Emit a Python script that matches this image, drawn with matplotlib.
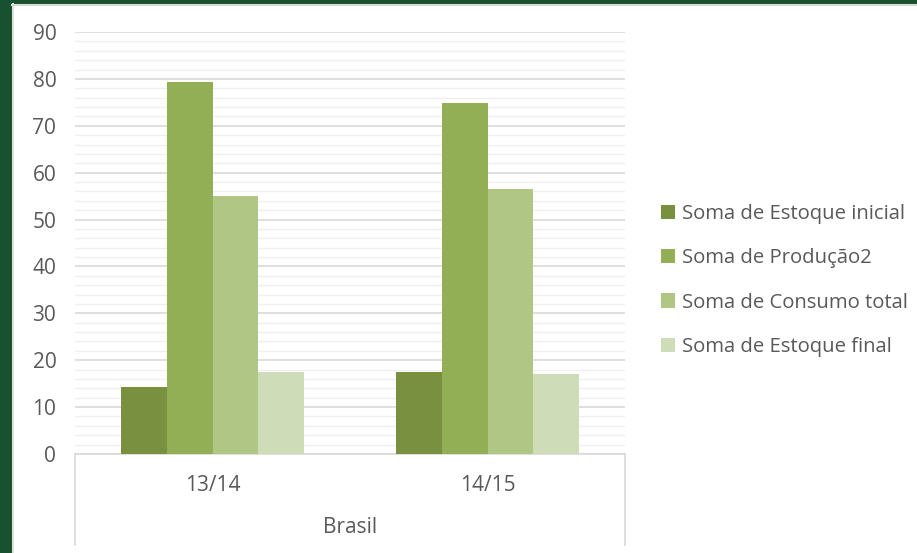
import matplotlib
matplotlib.use("Agg")
import matplotlib.pyplot as plt
import numpy as np
from matplotlib.patches import Rectangle
from matplotlib.lines import Line2D

plt.rcParams["font.family"] = ["Open Sans", "DejaVu Sans"]

# dados
safras = ["13/14", "14/15"]
grupo = "Brasil"
series = ["Soma de Estoque inicial", "Soma de Produção2",
          "Soma de Consumo total", "Soma de Estoque final"]
estoque_inicial = [14.3, 17.5]
producao = [79.3, 74.8]
consumo_total = [55.0, 56.5]
estoque_final = [17.5, 17.1]
cores = ["#78903F", "#93AF55", "#AFC684", "#CFDCB8"]

W, H = 917, 553
fig = plt.figure(figsize=(W / 100, H / 100), dpi=100)
fig.patch.set_facecolor("white")

# moldura verde do slide
verde = "#17512F"
fig.patches.append(Rectangle((0, 0), 12 / W, 1, transform=fig.transFigure,
                             facecolor=verde, edgecolor="none", zorder=0))
fig.patches.append(Rectangle((0, 1 - 4 / H), 1, 4 / H, transform=fig.transFigure,
                             facecolor=verde, edgecolor="none", zorder=0))
fig.lines.append(Line2D([12.5 / W, 12.5 / W], [0, 1 - 4 / H], transform=fig.transFigure,
                        color="#E0E0E0", lw=1.5))
fig.lines.append(Line2D([12 / W, 1], [1 - 5 / H, 1 - 5 / H], transform=fig.transFigure,
                        color="#D8D8D8", lw=1.5))

ax = fig.add_axes([75 / W, 1 - 454 / H, 550 / W, 422 / H])

x = np.arange(len(safras))
w = 0.167
valores = [estoque_inicial, producao, consumo_total, estoque_final]
for k, (nome, vals, cor) in enumerate(zip(series, valores, cores)):
    ax.bar(x + (k - 1.5) * w, vals, width=w, color=cor, label=nome, zorder=3)

ax.set_xlim(-0.5, len(safras) - 0.5)
ax.set_ylim(0, 90)
ax.set_yticks(np.arange(0, 91, 10))
ax.set_yticks(np.arange(0, 91, 2), minor=True)
ax.grid(axis="y", which="major", color="#D9D9D9", lw=1.2, zorder=0)
ax.grid(axis="y", which="minor", color="#F0F0F0", lw=1.0, zorder=0)
for s in ["top", "right", "left"]:
    ax.spines[s].set_visible(False)
ax.spines["bottom"].set_color("#D9D9D9")
ax.spines["bottom"].set_linewidth(1.2)
ax.tick_params(axis="y", which="both", length=0, labelsize=15,
               labelcolor="#595959", pad=13.5)
ax.set_xticks([])

# rótulos de categoria em caixa
tr = ax.get_xaxis_transform()
for i, s in enumerate(safras):
    ax.text(i, -0.0735, s, transform=tr, ha="center", va="center",
            fontsize=15, color="#595959")
ax.text(np.mean(x), -0.175, grupo, transform=tr, ha="center", va="center",
        fontsize=15, color="#595959")
for xb in [-0.5, len(safras) - 0.5]:
    ax.plot([xb, xb], [0, -0.216], transform=tr, color="#D9D9D9", lw=1.2,
            clip_on=False)

leg = fig.legend(loc="center left", bbox_to_anchor=(661 / W, 1 - 280.5 / H),
                 frameon=False, fontsize=14.6, labelcolor="#595959",
                 handlelength=0.7, handleheight=0.7, handletextpad=0.35,
                 labelspacing=1.2, borderpad=0, borderaxespad=0)

fig.savefig("out.png", dpi=100)
